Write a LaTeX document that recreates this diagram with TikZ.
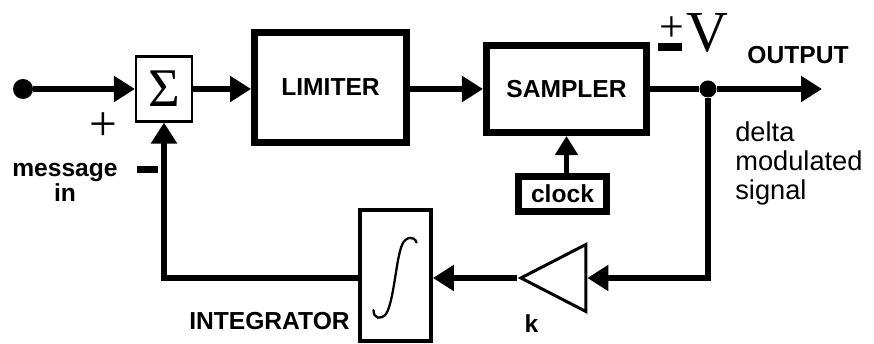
\documentclass[tikz,border=0pt]{standalone}
\usepackage{fontspec}
\setmainfont{Liberation Sans}
\newfontfamily\serif{Liberation Serif}
\usetikzlibrary{positioning}
\usetikzlibrary{arrows.meta}
\usetikzlibrary{shapes.geometric}

\begin{document}
\begin{tikzpicture}[
    blk/.style={draw, line width=4.2pt, inner sep=0pt, font=\fontsize{14}{14}\selectfont\bfseries},
    conn/.style={line width=3.4pt, -{Triangle[length=0.42cm, width=0.5cm]}},
    lbl/.style={inner sep=0pt, font=\fontsize{14}{14}\selectfont\bfseries},
    dot/.style={circle, fill=black, inner sep=0pt}
  ]
  \useasboundingbox (0,0) rectangle (17.48,6.88);
  % forward path
  \node[dot, minimum size=0.40cm] (msgin) at (0.46,5.10) {};
  \node[draw, line width=1.2pt, inner sep=0pt, minimum width=1.12cm, minimum height=1.30cm,
        font=\fontsize{31}{31}\selectfont\serif] (sigma) at (3.28,5.10) {Σ};
  \node[blk, minimum width=3.03cm, minimum height=2.19cm] (limiter) at (6.61,5.13) {LIMITER};
  \node[blk, line width=4pt, minimum width=3.20cm, minimum height=1.74cm] (sampler) at (11.33,5.10) {SAMPLER};
  \node[blk, line width=3.8pt, minimum width=1.77cm, minimum height=0.71cm] (clock) at (11.25,3.00) {clock};
  \node[dot, minimum size=0.34cm] (junction) at (14.16,5.10) {};
  \coordinate (outend) at (16.44,5.10);
  % feedback path
  \node[draw, line width=1.7pt, isosceles triangle, isosceles triangle stretches, shape border rotate=180,
        minimum width=1.34cm, minimum height=1.30cm, inner sep=0pt, anchor=apex] (gain) at (10.34,1.32) {};
  \node[draw, line width=2.5pt, minimum width=1.41cm, minimum height=2.61cm] (integ) at (7.91,1.37) {};
  \draw[line width=1.3pt, line cap=round] (7.47,0.68) .. controls (7.47,0.50) and (7.62,0.48) .. (7.72,0.60)
    .. controls (7.88,0.85) and (7.92,1.70) .. (8.04,1.98)
    .. controls (8.10,2.14) and (8.28,2.18) .. (8.33,2.03);

  \draw[conn] (msgin) -- (sigma.west);
  \draw[conn] (sigma.east) -- (limiter.west |- sigma.east);
  \draw[conn] (limiter.east |- sampler.west) -- (sampler.west);
  \draw[line width=3.4pt] (sampler.east) -- (junction);
  \draw[conn] (junction) -- (outend);
  \draw[conn, -{Triangle[length=0.38cm, width=0.44cm]}] (clock.north -| sampler.south) -- (sampler.south);
  \draw[conn] (junction) |- (gain.east);
  \draw[conn] (gain.apex) -- (gain.apex -| integ.east);
  \draw[conn] (integ.west |- gain.apex) -| (sigma.south);

  % labels
  \node[inner sep=0pt, font=\fontsize{28}{28}\selectfont\serif] (plus) at (2.07,4.35) {+};
  \node[inner sep=0pt] (minus) at (2.95,3.49) {\rule{0.42cm}{0.13cm}};
  \node[lbl, align=center, anchor=north] (msglbl) at (1.30,3.62) {message\\in};
  \node[inner sep=0pt, font=\fontsize{25}{25}\selectfont\serif] (pm) at (13.43,6.30) {+};
  \node[inner sep=0pt] (pmbar) at (13.40,5.94) {\rule{0.48cm}{0.16cm}};
  \node[inner sep=0pt, anchor=base, font=\fontsize{33}{33}\selectfont\serif] (vlbl) at (14.15,5.84) {V};
  \node[lbl] (outlbl) at (15.96,5.78) {OUTPUT};
  \node[inner sep=0pt, align=left, anchor=north west, font=\fontsize{15.5}{16.5}\selectfont] (dmlbl) at (14.70,4.45) {delta\\modulated\\signal};
  \node[lbl, anchor=base east] (intlbl) at (7.00,0.28) {INTEGRATOR};
  \node[lbl, anchor=base] (klbl) at (10.63,0.22) {k};
\end{tikzpicture}
\end{document}
